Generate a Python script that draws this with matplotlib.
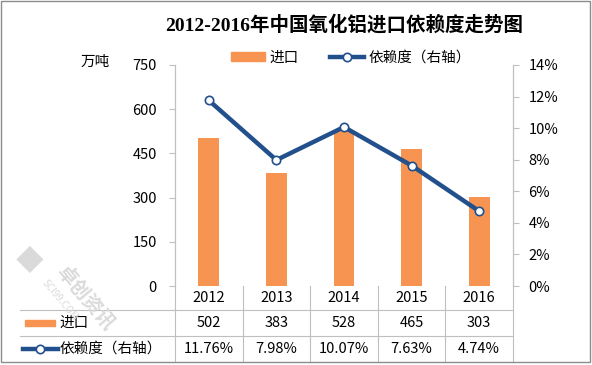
import matplotlib
matplotlib.use("Agg")
import matplotlib.pyplot as plt
from matplotlib.patches import Rectangle
from matplotlib.lines import Line2D
import matplotlib.transforms as mtransforms

plt.rcParams['font.family'] = ['Noto Sans CJK SC', 'DejaVu Sans']

years = ['2012', '2013', '2014', '2015', '2016']
imports = [502, 383, 528, 465, 303]          # 万吨
dependency = [11.76, 7.98, 10.07, 7.63, 4.74]  # %
left_ticks = [0, 150, 300, 450, 600, 750]
right_ticks = [0, 2, 4, 6, 8, 10, 12, 14]

title = '2012-2016年中国氧化铝进口依赖度走势图'
bar_name = '进口'
line_name = '依赖度（右轴）'
unit = '万吨'

bar_color = '#F79452'
line_color = '#22508C'
grid_color = '#BFBFBF'
W, H = 592, 365

fig = plt.figure(figsize=(W / 100, H / 100), dpi=100)
ax = fig.add_axes([175 / W, (H - 286) / H, 338 / W, 221 / H])
ax2 = ax.twinx()

x = list(range(len(years)))
ax.bar(x, imports, width=0.31, color=bar_color, zorder=2)
ax2.plot(x, dependency, color=line_color, lw=3.2, marker='o', ms=6,
         mfc='white', mec=line_color, mew=1.2, zorder=3, clip_on=False)

ax.set_xlim(-0.5, len(years) - 0.5)
ax.set_ylim(0, 750)
ax.set_yticks(left_ticks)
ax2.set_ylim(0, 14)
ax2.set_yticks(right_ticks)
ax2.set_yticklabels([f'{t}%' for t in right_ticks])
ax.set_xticks([])

for a in (ax, ax2):
    for s in ('top', 'bottom'):
        a.spines[s].set_visible(False)
    a.spines['left'].set_color(grid_color)
    a.spines['right'].set_color(grid_color)
    a.tick_params(axis='y', colors=grid_color, labelcolor='black',
                  labelsize=10.5, length=4)
ax.tick_params(axis='y', pad=9)
ax2.tick_params(axis='y', pad=7)
ax.set_zorder(ax2.get_zorder() - 1)
ax2.patch.set_visible(False)

# data table under the plot
tr = mtransforms.blended_transform_factory(ax.transData, ax.transAxes)
row_y = [-0.054, -0.167, -0.285]
line_y = [-0.1086, -0.226]
bottom_y = -0.344
for i in range(len(years) + 1):
    ax.plot([i - 0.5, i - 0.5], [0, bottom_y], color=grid_color, lw=0.8,
            transform=tr, clip_on=False)
for yy in line_y:
    ax.plot([-0.4586, 1], [yy, yy], color=grid_color, lw=0.8,
            transform=ax.transAxes, clip_on=False)
for i in x:
    ax.text(i, row_y[0], years[i], transform=tr, ha='center', va='center', fontsize=10.5)
    ax.text(i, row_y[1], f'{imports[i]}', transform=tr, ha='center', va='center', fontsize=10.5)
    ax.text(i, row_y[2], f'{dependency[i]:.2f}%', transform=tr, ha='center', va='center', fontsize=10.5)

ax.add_patch(Rectangle((-0.4438, row_y[1] - 0.014), 0.088, 0.028, color=bar_color,
                       transform=ax.transAxes, clip_on=False))
ax.text(-0.343, row_y[1], bar_name, transform=ax.transAxes, ha='left', va='center', fontsize=10.5)
ax.plot([-0.450, -0.346], [row_y[2], row_y[2]], color=line_color, lw=3.2,
        transform=ax.transAxes, clip_on=False)
ax.plot([-0.398], [row_y[2]], marker='o', ms=6, mfc='white', mec=line_color, mew=1.2,
        transform=ax.transAxes, clip_on=False)
ax.text(-0.343, row_y[2], line_name, transform=ax.transAxes, ha='left', va='center', fontsize=10.5)

# title, unit, legend
fig.text(344 / W, 1 - 25 / H, title, ha='center', va='center', fontsize=14,
         fontweight='bold', family=['Liberation Serif', 'Noto Sans CJK SC'])
fig.text(95 / W, 1 - 62 / H, unit, ha='center', va='center', fontsize=10.5)
handles = [Rectangle((0, 0), 1, 1, color=bar_color),
           Line2D([], [], color=line_color, lw=3.2, marker='o', ms=6,
                  mfc='white', mec=line_color, mew=1.2)]
fig.legend(handles, [bar_name, line_name], loc='center', bbox_to_anchor=(351 / W, 1 - 58 / H),
           ncol=2, frameon=False, fontsize=10.5, handlelength=2.3, handleheight=0.6,
           handletextpad=0.3, columnspacing=2.2)

# watermark
fig.text(85 / W, 1 - 298 / H, '卓创资讯', rotation=-50, ha='center', va='center',
         fontsize=14, fontweight='bold', color='#DADADA', zorder=0)
fig.text(60 / W, 1 - 300 / H, 'SCI99.COM', rotation=-50, ha='center', va='center',
         fontsize=7, color='#DADADA', zorder=0)
fig.text(30 / W, 1 - 262 / H, '◆', ha='center', va='center', fontsize=20,
         color='#DADADA', zorder=0)

# outer border
fig.patches.append(Rectangle((1 / W, 3 / H), (W - 3) / W, (H - 4) / H, fill=False,
                             edgecolor='#8C8C8C', lw=1, transform=fig.transFigure))

fig.savefig('out.png', dpi=100)
